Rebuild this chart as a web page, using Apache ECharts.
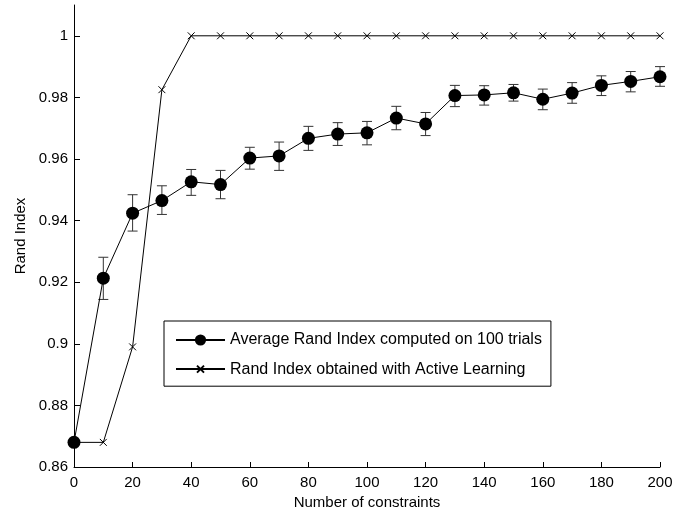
<!DOCTYPE html>
<html>
<head>
<meta charset="utf-8">
<script src="https://cdn.jsdelivr.net/npm/echarts@6/dist/echarts.min.js"></script>
<style>html,body{margin:0;padding:0;background:#fff;}#chart{width:677px;height:515px;}</style>
</head>
<body>
<div id="chart"></div>
<script>
const constraints = [0,10,20,30,40,50,60,70,80,90,100,110,120,130,140,150,160,170,180,190,200];
const avgRand = [0.868,0.9213,0.9424,0.9465,0.9526,0.9517,0.9603,0.961,0.9667,0.9681,0.9685,0.9733,0.9714,0.9806,0.9808,0.9815,0.9794,0.9814,0.9839,0.9852,0.9867];
const errLow  = [0.868,0.9144,0.9366,0.942,0.9482,0.9471,0.9567,0.9563,0.9628,0.9644,0.9646,0.9695,0.9676,0.977,0.9775,0.9788,0.976,0.9781,0.9806,0.9818,0.9836];
const errHigh = [0.868,0.9281,0.9484,0.9513,0.9566,0.9563,0.9638,0.9655,0.9706,0.9718,0.9722,0.9771,0.9751,0.9839,0.9838,0.9842,0.9827,0.9848,0.987,0.9884,0.99];
const activeRand = [0.868,0.868,0.899,0.9825,1,1,1,1,1,1,1,1,1,1,1,1,1,1,1,1,1];
const yTicks = [0.86,0.88,0.9,0.92,0.94,0.96,0.98,1];
const seriesNames = ['Average Rand Index computed on 100 trials','Rand Index obtained with Active Learning'];

const FONT = 'Liberation Sans';
const chart = echarts.init(document.getElementById('chart'), null, {renderer:'canvas'});

const errData = constraints.map((x,i)=>[x, errLow[i], errHigh[i]]);

chart.setOption({
  animation:false,
  backgroundColor:'#fff',
  textStyle:{fontFamily:FONT},
  grid:{left:74,right:17,top:5,bottom:48,containLabel:false},
  xAxis:{
    type:'value',min:0,max:200,interval:20,
    name:'Number of constraints',nameLocation:'middle',nameGap:27,
    nameTextStyle:{fontFamily:FONT,fontSize:15,color:'#000'},
    axisLine:{show:true,lineStyle:{color:'#000',width:1}},
    axisTick:{show:true,inside:true,length:5,lineStyle:{color:'#000'}},
    axisLabel:{color:'#000',fontFamily:FONT,fontSize:15,margin:8},
    splitLine:{show:false}
  },
  yAxis:{
    type:'value',min:0.86,max:1.01,interval:0.02,
    name:'Rand Index',nameLocation:'middle',nameGap:44,
    nameTextStyle:{fontFamily:FONT,fontSize:15,color:'#000'},
    axisLine:{show:true,lineStyle:{color:'#000',width:1}},
    axisTick:{show:true,inside:true,length:6,lineStyle:{color:'#000'},customValues:yTicks},
    axisLabel:{color:'#000',fontFamily:FONT,fontSize:15,margin:6,customValues:yTicks,
      formatter:v=>String(parseFloat(Number(v).toFixed(2)))},
    splitLine:{show:false}
  },
  legend:{
    orient:'vertical',left:164,top:321,
    itemWidth:49,itemHeight:14,itemGap:13,
    padding:[11,9,9,11],
    borderColor:'#000',borderWidth:1,backgroundColor:'#fff',
    textStyle:{fontFamily:FONT,fontSize:16,color:'#000'},
    data:seriesNames
  },
  series:[
    {
      type:'custom',
      name:'err',
      z:1,
      data:errData,
      renderItem:function(params, api){
        const x = api.value(0), lo = api.value(1), hi = api.value(2);
        if (lo === hi) return {type:'group',children:[]};
        const pLo = api.coord([x,lo]);
        const pHi = api.coord([x,hi]);
        const w = 5;
        const st = {stroke:'#333',lineWidth:1};
        return {type:'group',children:[
          {type:'line',shape:{x1:pLo[0],y1:pLo[1],x2:pHi[0],y2:pHi[1]},style:st},
          {type:'line',shape:{x1:pLo[0]-w,y1:pLo[1],x2:pLo[0]+w,y2:pLo[1]},style:st},
          {type:'line',shape:{x1:pHi[0]-w,y1:pHi[1],x2:pHi[0]+w,y2:pHi[1]},style:st}
        ]};
      }
    },
    {
      type:'line',
      name:seriesNames[0],
      z:3,
      data:constraints.map((x,i)=>[x,avgRand[i]]),
      symbol:'circle',symbolSize:13,showAllSymbol:true,
      lineStyle:{color:'#000',width:1},
      itemStyle:{color:'#000'}
    },
    {
      type:'line',
      name:seriesNames[1],
      z:2,
      data:constraints.map((x,i)=>[x,activeRand[i]]),
      symbol:'path://M-3,-3L-3,-3M0,0L10,10M10,0L0,10M13,13L13,13',symbolSize:11,showAllSymbol:true,
      lineStyle:{color:'#000',width:1},
      itemStyle:{color:'none',borderColor:'#000',borderWidth:1}
    }
  ]
});
</script>
</body>
</html>
